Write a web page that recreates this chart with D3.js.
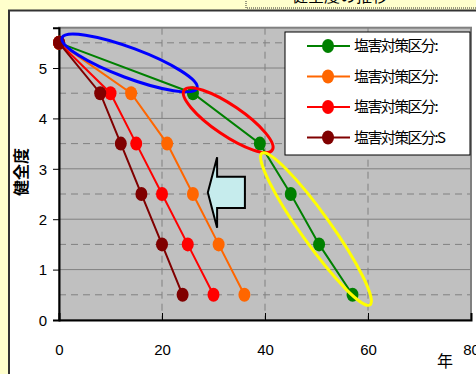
<!DOCTYPE html>
<html lang="ja">
<head>
<meta charset="UTF-8">
<title>健全度の推移</title>
<script src="https://d3js.org/d3.v7.min.js"></script>
<style>
    body { margin: 0; background: #ffffcc; }
    svg { display: block; }
    .tick-label { font-family: "Liberation Sans", Arial, sans-serif; font-size: 15px; fill: #000; }
    .jp { font-family: "Noto Sans CJK JP", sans-serif; fill: #000; }
</style>
</head>
<body>
<div id="chart"></div>
<script>
// series: year reached for each health grade
const seriesNames = ["塩害対策区分:", "塩害対策区分:", "塩害対策区分:", "塩害対策区分:S"];
const seriesColors = ["#008000", "#ff6600", "#ff0000", "#800000"];
const health = [5.5, 4.5, 3.5, 2.5, 1.5, 0.5];
const yearsA = [0, 26, 39, 45, 50.5, 57];
const yearsB = [0, 14, 21, 26, 31, 36];
const yearsC = [0, 10, 15, 20, 25, 30];
const yearsS = [0, 8, 12, 16, 20, 24];
const xTicks = [0, 20, 40, 60, 80];
const yTicks = [0, 1, 2, 3, 4, 5];

// highlighted ranges (data units, end points of each ellipse)
const rings = [
    { from: [0.6, 5.6], to: [26.8, 4.6], color: "#0000ff" },
    { from: [24.3, 4.56], to: [41.4, 3.37], color: "#ff0000" },
    { from: [39.4, 3.31], to: [60.4, 0.3], color: "#ffff00" }
];
// block arrow pointing left (data units)
const arrowPts = [[28.9, 2.53], [30.7, 3.23], [30.7, 2.84], [36.1, 2.84], [36.1, 2.22], [30.7, 2.22], [30.7, 1.83]];

const W = 476, H = 374;
const svg = d3.select("#chart").append("svg").attr("width", W).attr("height", H);

// title box at the top (mostly cut off)
svg.append("rect").attr("x", 246).attr("y", -20).attr("width", 260).attr("height", 28)
    .attr("fill", "#ffffcc").attr("stroke", "#333").attr("stroke-dasharray", "1,1");
svg.append("text").attr("class", "jp").attr("x", 340).attr("y", 2).attr("text-anchor", "middle")
    .style("font-size", "16px").text("健全度の推移");

// white chart panel
svg.append("rect").attr("x", 9).attr("y", 10.5).attr("width", 480).attr("height", 380)
    .attr("fill", "#fff").attr("stroke", "#333").attr("stroke-width", 2);

const x = d3.scaleLinear().domain([0, 80]).range([59, 471]);
const y = d3.scaleLinear().domain([0, 5.8]).range([320, 27.7]);

// plot area
svg.append("rect").attr("x", x(0)).attr("y", y(5.8)).attr("width", x(80) - x(0)).attr("height", y(0) - y(5.8))
    .attr("fill", "#c0c0c0").attr("stroke", "#808080").attr("stroke-width", 2);

const grid = svg.append("g");
grid.selectAll(".hmaj").data(d3.range(1, 6)).enter().append("line")
    .attr("x1", x(0)).attr("x2", x(80)).attr("y1", d => y(d)).attr("y2", d => y(d))
    .attr("stroke", "#808080").attr("stroke-width", 1);
grid.selectAll(".hmin").data(d3.range(0.5, 5.8, 1)).enter().append("line")
    .attr("x1", x(0)).attr("x2", x(80)).attr("y1", d => y(d)).attr("y2", d => y(d))
    .attr("stroke", "#808080").attr("stroke-width", 1).attr("stroke-dasharray", "7,5");
grid.selectAll(".v").data([20, 40, 60]).enter().append("line")
    .attr("x1", d => x(d)).attr("x2", d => x(d)).attr("y1", y(5.8)).attr("y2", y(0))
    .attr("stroke", "#808080").attr("stroke-width", 1).attr("stroke-dasharray", "7,5");

// axes
const yAxis = svg.append("g").attr("transform", `translate(${x(0)},0)`)
    .call(d3.axisLeft(y).tickValues(yTicks).tickSize(6).tickPadding(6).tickFormat(d3.format("d")));
const xAxis = svg.append("g").attr("transform", `translate(0,${y(0)})`)
    .call(d3.axisBottom(x).tickValues(xTicks).tickSize(-7).tickPadding(24).tickFormat(d3.format("d")));
[yAxis, xAxis].forEach(a => {
    a.select(".domain").attr("stroke", "#000").attr("stroke-width", 2);
    a.selectAll(".tick line").attr("stroke", "#000");
    a.selectAll(".tick text").attr("class", "tick-label").attr("fill", "#000");
});
yAxis.selectAll(".tick text").attr("dy", "0.35em");

// series
const allYears = [yearsA, yearsB, yearsC, yearsS];
const series = allYears.map((yr, i) => ({
    name: seriesNames[i], color: seriesColors[i],
    pts: yr.map((v, j) => ({ year: v, h: health[j] }))
}));
const line = d3.line().x(d => x(d.year)).y(d => y(d.h));
const sg = svg.append("g").selectAll("g").data(series).enter().append("g");
sg.append("path").attr("d", d => line(d.pts)).attr("fill", "none")
    .attr("stroke", d => d.color).attr("stroke-width", 2);
sg.selectAll("ellipse").data(d => d.pts.map(p => ({ ...p, color: d.color }))).enter().append("ellipse")
    .attr("cx", d => x(d.year)).attr("cy", d => y(d.h)).attr("rx", 6).attr("ry", 7)
    .attr("fill", d => d.color);

// rings
svg.append("g").selectAll("ellipse").data(rings).enter().append("ellipse")
    .each(function (d) {
        const x1 = x(d.from[0]), y1 = y(d.from[1]), x2 = x(d.to[0]), y2 = y(d.to[1]);
        const cx = (x1 + x2) / 2, cy = (y1 + y2) / 2;
        const len = Math.hypot(x2 - x1, y2 - y1) / 2;
        const ang = Math.atan2(y2 - y1, x2 - x1) * 180 / Math.PI;
        d3.select(this).attr("cx", 0).attr("cy", 0).attr("rx", len).attr("ry", 15)
            .attr("transform", `translate(${cx},${cy}) rotate(${ang})`);
    })
    .attr("fill", "none").attr("stroke", d => d.color).attr("stroke-width", 3);

// arrow
svg.append("polygon").attr("points", arrowPts.map(p => [x(p[0]), y(p[1])].join(",")).join(" "))
    .attr("fill", "#c6eced").attr("stroke", "#000").attr("stroke-width", 2);

// legend
const lg = svg.append("g");
lg.append("rect").attr("x", 285).attr("y", 32).attr("width", 185).attr("height", 123)
    .attr("fill", "#fff").attr("stroke", "#000").attr("stroke-width", 1);
const items = lg.selectAll(".item").data(series).enter().append("g")
    .attr("transform", (d, i) => `translate(0,${46 + i * 30.5})`);
items.append("line").attr("x1", 307).attr("x2", 350).attr("stroke", d => d.color).attr("stroke-width", 2);
items.append("ellipse").attr("cx", 328).attr("rx", 6).attr("ry", 7).attr("fill", d => d.color);
items.append("text").attr("class", "jp").attr("x", 354).attr("dy", "0.35em")
    .style("font-size", "15px").style("letter-spacing", "-1.6px").text(d => d.name);

// axis titles
svg.append("text").attr("class", "jp").attr("transform", "translate(27,172) rotate(-90)")
    .attr("text-anchor", "middle").style("font-size", "16px").style("font-weight", "bold").text("健全度");
svg.append("text").attr("class", "jp").attr("x", 445).attr("y", 367).attr("text-anchor", "middle")
    .style("font-size", "16px").text("年");
</script>
</body>
</html>
